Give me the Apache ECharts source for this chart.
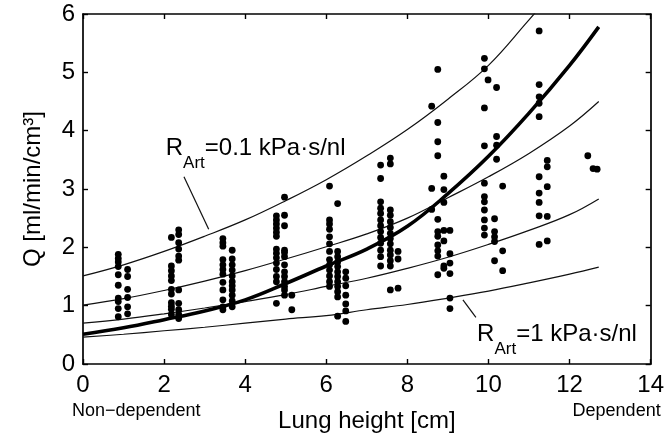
<!DOCTYPE html>
<html><head><meta charset="utf-8">
<script src="https://cdn.jsdelivr.net/npm/echarts@6/dist/echarts.min.js"></script>
<style>html,body{margin:0;padding:0;background:#fff}#c{width:667px;height:439px}</style>
</head><body><div id="c"></div>
<script>
const FONT = '"Liberation Sans", Arial, Helvetica, sans-serif';
// axis ticks
const xTicks = [0, 2, 4, 6, 8, 10, 12, 14];
const yTicks = [0, 1, 2, 3, 4, 5, 6];
// model curves
const curveX = [0, 1, 2, 3, 4, 5, 6, 7, 8, 9, 10, 11, 12, 12.72];
const topX = [0, 1, 2, 3, 4, 5, 6, 7, 8, 9, 10, 11, 11.15];
const curveR01 = [1.51, 1.70, 1.93, 2.19, 2.47, 2.80, 3.16, 3.57, 4.02, 4.54, 5.12, 5.90, 6.02];
const curveB = [1.01, 1.12, 1.26, 1.42, 1.60, 1.80, 2.01, 2.23, 2.50, 2.85, 3.21, 3.61, 4.08, 4.50];
const curveC = [0.70, 0.77, 0.86, 0.96, 1.07, 1.19, 1.33, 1.47, 1.64, 1.83, 2.05, 2.29, 2.56, 2.83];
const curveR1 = [0.46, 0.51, 0.57, 0.63, 0.70, 0.77, 0.83, 0.93, 1.02, 1.13, 1.25, 1.39, 1.54, 1.66];
const curveFit = [0.51, 0.62, 0.76, 0.91, 1.10, 1.38, 1.68, 1.97, 2.36, 2.92, 3.56, 4.30, 5.12, 5.78];
// measured points: lung-height columns and their Q values
const colX = [0.87, 1.10, 2.18, 2.36, 3.45, 3.68, 4.77, 4.97, 5.15, 6.08, 6.28, 6.48, 7.34, 7.58, 7.77,
  8.60, 8.75, 8.90, 9.05, 9.90, 9.99, 10.15, 10.20, 10.35, 11.25, 11.45, 12.45, 12.58, 12.68];
const colY = [
  [1.88, 1.81, 1.75, 1.67, 1.53, 1.35, 1.13, 1.07, 0.95, 0.81],
  [1.62, 1.50, 1.28, 1.14, 0.98, 0.86],
  [2.17, 1.68, 1.60, 1.51, 1.43, 1.28, 1.20, 1.05, 0.99, 0.94, 0.85],
  [2.30, 2.22, 2.08, 1.97, 1.85, 1.78, 1.27, 1.04, 0.93, 0.85, 0.78],
  [2.15, 2.08, 2.02, 1.79, 1.70, 1.62, 1.54, 1.40, 1.27, 1.10, 0.98, 0.93],
  [1.95, 1.80, 1.70, 1.61, 1.51, 1.41, 1.34, 1.27, 1.18, 1.08, 0.98],
  [2.54, 2.47, 2.40, 2.33, 2.26, 2.19, 1.97, 1.90, 1.82, 1.73, 1.62, 1.50, 1.41, 1.04],
  [2.86, 2.55, 2.37, 1.95, 1.91, 1.84, 1.70, 1.58, 1.50, 1.41, 1.33, 1.27, 1.18],
  [1.18, 0.93],
  [3.05, 2.47, 2.40, 2.31, 2.18, 2.06, 1.93, 1.79, 1.70, 1.61, 1.51, 1.41, 1.33],
  [2.75, 1.93, 1.84, 1.75, 1.67, 1.58, 1.50, 1.41, 1.33, 1.24, 1.15, 0.82],
  [1.58, 1.47, 1.34, 1.18, 1.03, 0.91, 0.73],
  [3.41, 3.18, 2.78, 2.67, 2.58, 2.47, 2.37, 2.27, 2.17, 2.07, 1.95, 1.84, 1.68],
  [3.53, 3.43, 2.64, 2.55, 2.44, 2.34, 2.24, 2.15, 2.06, 1.95, 1.87, 1.77, 1.68, 1.27],
  [1.93, 1.80, 1.30],
  [4.42, 3.01, 2.65],
  [5.05, 4.14, 3.81, 3.57, 2.48, 2.27, 2.19, 2.04, 1.94, 1.85, 1.53],
  [3.22, 2.99, 2.77, 2.29, 2.11, 1.68, 1.64],
  [2.29, 1.89, 1.73, 1.55, 1.13, 0.95],
  [5.24, 5.06, 4.39, 3.74, 3.10, 2.87, 2.78, 2.64, 2.47, 2.33, 2.21],
  [4.87],
  [2.49, 2.27, 2.18, 2.10, 1.77],
  [4.74, 3.90, 3.75, 3.51],
  [3.05, 1.94, 1.60],
  [5.71, 4.79, 4.58, 4.47, 4.24, 3.21, 2.93, 2.77, 2.54, 2.05],
  [3.49, 3.38, 3.04, 2.53, 2.11],
  [3.57], [3.35], [3.34]
];
// annotation anchors (data coords)
const label1 = {x: 2.04, y: 3.55, main: 'R', sub: 'Art', rest: '=0.1 kPa·s/nl'};
const label2 = {x: 9.72, y: 0.36, main: 'R', sub: 'Art', rest: '=1 kPa·s/nl'};
const leader1 = [[2.49, 3.21], [3.10, 2.31]];
const leader2 = [[9.37, 1.10], [9.69, 0.80]];

const pts = [];
colX.forEach((x, i) => colY[i].forEach(y => pts.push([x, y])));
const zip = (xs, ys) => xs.map((x, i) => [x, ys[i]]);

const chart = echarts.init(document.getElementById('c'), null, {renderer: 'canvas'});
const axisCommon = {
  type: 'value', splitLine: {show: false},
  axisLine: {show: true, onZero: false, lineStyle: {color: '#000', width: 1.7}},
  axisTick: {show: true, inside: true, length: 5, lineStyle: {color: '#000', width: 1.4}},
};
const xa = {min: xTicks[0], max: xTicks[xTicks.length - 1], interval: xTicks[1] - xTicks[0]};
const ya = {min: yTicks[0], max: yTicks[yTicks.length - 1], interval: yTicks[1] - yTicks[0]};
const thin = {type: 'line', smooth: 0.4, symbol: 'none', silent: true, lineStyle: {color: '#111', width: 1.2}, z: 2};

chart.setOption({
  animation: false,
  grid: {left: 83, right: 15, top: 14, bottom: 75},
  xAxis: [
    Object.assign({}, axisCommon, xa, {position: 'bottom',
      axisLabel: {fontSize: 24, color: '#000', margin: 9, fontFamily: FONT},
      name: 'Lung height [cm]', nameLocation: 'middle', nameGap: 45,
      nameTextStyle: {fontSize: 24, color: '#000', fontFamily: FONT}}),
    Object.assign({}, axisCommon, xa, {position: 'top', axisLabel: {show: false}})
  ],
  yAxis: [
    Object.assign({}, axisCommon, ya, {position: 'left',
      axisLabel: {fontSize: 24, color: '#000', margin: 8, fontFamily: FONT},
      name: 'Q [ml/min/cm³]', nameLocation: 'middle', nameGap: 38,
      nameTextStyle: {fontSize: 24, color: '#000', fontFamily: FONT}}),
    Object.assign({}, axisCommon, ya, {position: 'right', axisLabel: {show: false}})
  ],
  series: [
    Object.assign({}, thin, {data: zip(topX, curveR01)}),
    Object.assign({}, thin, {data: zip(curveX, curveB)}),
    Object.assign({}, thin, {data: zip(curveX, curveC)}),
    Object.assign({}, thin, {data: zip(curveX, curveR1)}),
    Object.assign({}, thin, {data: zip(curveX, curveFit), lineStyle: {color: '#000', width: 3.6}, z: 3}),
    Object.assign({}, thin, {data: leader1, smooth: false}),
    Object.assign({}, thin, {data: leader2, smooth: false}),
    {type: 'scatter', data: pts, symbolSize: 6.8, itemStyle: {color: '#000', opacity: 1}, z: 4, silent: true}
  ]
});

const ctx = document.createElement('canvas').getContext('2d');
function tw(t, fs) { ctx.font = fs + 'px "Liberation Sans"'; return ctx.measureText(t).width; }
function subLabel(l) {
  const p = chart.convertToPixel({gridIndex: 0}, [l.x, l.y]);
  const big = 24, small = 17;
  const w1 = tw(l.main, big), w2 = tw(l.sub, small);
  const base = p[1];
  const el = (txt, x, y, fs) => ({type: 'text', x: x, y: y, silent: true,
    style: {text: txt, fontSize: fs, fontFamily: FONT, fill: '#000', align: 'left', verticalAlign: 'middle'}});
  return [
    el(l.main, p[0], base - 0.34 * big, big),
    el(l.sub, p[0] + w1, base + 12 - 0.34 * small, small),
    el(l.rest, p[0] + w1 + w2, base - 0.34 * big, big)
  ];
}
const gLeft = chart.convertToPixel({gridIndex: 0}, [0, 0]);
const gRight = chart.convertToPixel({gridIndex: 0}, [14, 0]);
chart.setOption({graphic: [].concat(subLabel(label1), subLabel(label2), [
  {type: 'text', x: gLeft[0] - 11, y: 411, silent: true,
   style: {text: 'Non−dependent', fontSize: 18, fontFamily: FONT, fill: '#000', align: 'left', verticalAlign: 'middle'}},
  {type: 'text', x: gRight[0] + 10, y: 411, silent: true,
   style: {text: 'Dependent', fontSize: 18, fontFamily: FONT, fill: '#000', align: 'right', verticalAlign: 'middle'}}
])});
</script></body></html>
